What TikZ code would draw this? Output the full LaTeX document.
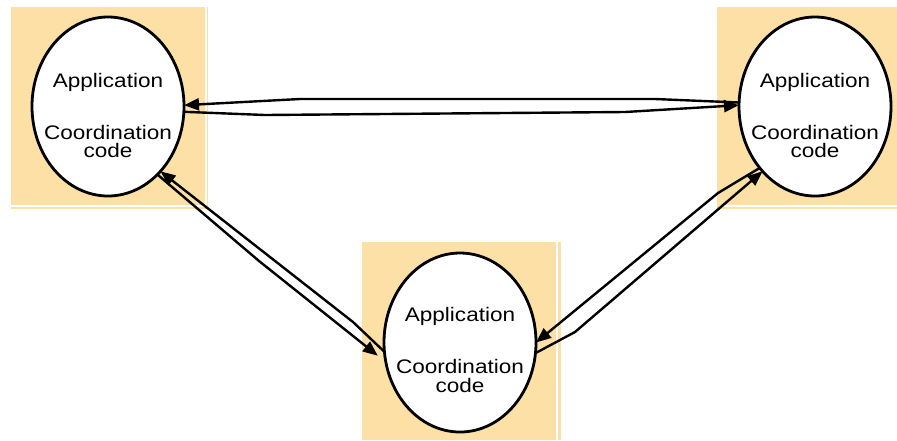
\documentclass[tikz,border=0pt]{standalone}
\usepackage{fontspec}
\setmainfont{Liberation Sans}
\newfontfamily\appfont[FakeStretch=1.15]{Liberation Sans}
\usetikzlibrary{shapes.geometric,arrows.meta}
\definecolor{peach}{RGB}{253,224,166}
\begin{document}
\begin{tikzpicture}[x=0.5pt,y=-0.5pt,
  site/.style={fill=peach,draw=none},
  edge/.style={white,line width=0.6pt},
  proc/.style={ellipse,draw,line width=1.4pt,fill=white,minimum width=76pt,minimum height=89.5pt,inner sep=0pt,outer sep=0pt},
  txt/.style={anchor=base,inner sep=0pt,font=\appfont\fontsize{9.8pt}{9.8pt}\selectfont},
  link/.style={line width=1.2pt,-{Triangle[length=7.5pt,width=6pt]},line join=round}]
\useasboundingbox (0,0) rectangle (897,440);
\fill[white] (0,0) rectangle (897,440);
% site boxes
\fill[site] (11,7) rectangle (208,209);
\draw[edge] (206,7) -- (206,206) -- (11,206);
\fill[site] (717,7) rectangle (897,209);
\draw[edge] (720,206) -- (897,206);
\fill[site] (362,242) rectangle (561,440);
\draw[edge] (557,242) -- (557,440);
% processes
\node[proc] (L) at (108,106.5) {};
\node[proc] (R) at (815,106.5) {};
\node[proc] (B) at (460,342.5) {};
\node[txt] (L1) at (108,87) {Application};
\node[txt] (L2) at (108,139) {Coordination};
\node[txt] (L3) at (108,157) {code};
\node[txt] (R1) at (815,87) {Application};
\node[txt] (R2) at (815,139) {Coordination};
\node[txt] (R3) at (815,157) {code};
\node[txt] (B1) at (460,321) {Application};
\node[txt] (B2) at (460,373) {Coordination};
\node[txt] (B3) at (460,392) {code};
% connectors L <-> R
\draw[link] (R.177) -- (655,99) -- (300,99) -- (L.1);
\draw[link] (L.-4) -- (265,115) -- (625,112) -- (R.179);
% connectors L <-> B
\draw[link] (B.187) -- (353,322) -- (L.-51);
\draw[link] (L.-54) -- (259,261) -- ([shift={(-7,0)}]B.190);
% connectors B <-> R
\draw[link] (R.228) -- (718,193) -- (B.0);
\draw[link] (B.-8) -- (575,332) -- (R.231);
\end{tikzpicture}
\end{document}
